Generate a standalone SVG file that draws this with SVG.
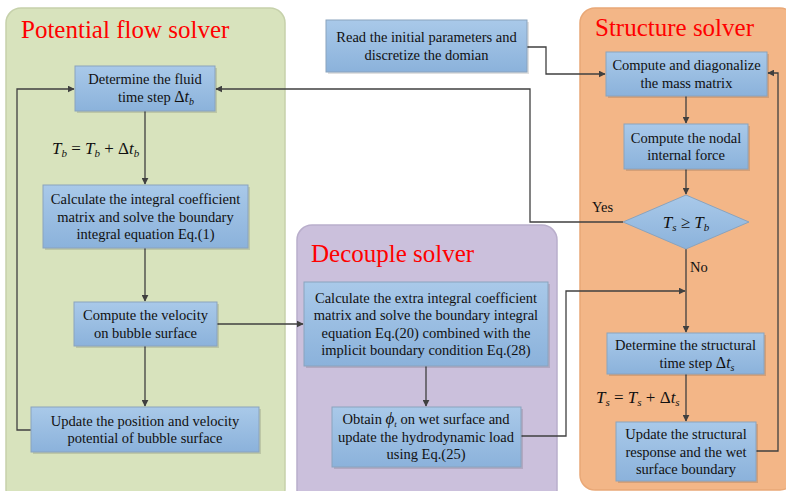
<svg xmlns="http://www.w3.org/2000/svg" width="786" height="491" viewBox="0 0 786 491" font-family="Liberation Serif">
<defs>
<linearGradient id="boxg" x1="0" y1="0" x2="0" y2="1">
<stop offset="0" stop-color="#a9c9e9"/>
<stop offset="1" stop-color="#8bb2db"/>
</linearGradient>
<marker id="arr" viewBox="0 0 10 10" refX="9" refY="5" markerWidth="7" markerHeight="7" markerUnits="userSpaceOnUse" orient="auto">
<path d="M0,0 L10,5 L0,10 z" fill="#404040"/>
</marker>
<style>
.panel{stroke-width:1.5}
.box{fill:url(#boxg);stroke:#8aa3bd;stroke-width:1}
.shadow{fill:#000;opacity:0.12}
.t{font-size:14.5px;fill:#111;text-anchor:middle}
.m{font-size:17px;fill:#111;font-style:italic}
.title{font-size:25px;fill:#ff0000}
.lab{font-size:14.5px;fill:#111}
.ca{fill:none;stroke:#404040;stroke-width:1.3;marker-end:url(#arr)}
</style>
</defs>
<rect width="786" height="491" fill="#ffffff"/>

<g id="panels">
<rect id="panel-potential" class="panel" x="6" y="8" width="279" height="496" rx="15" fill="#d8e3bd" stroke="#c6d1ab"/>
<rect id="panel-decouple" class="panel" x="297" y="225" width="260" height="280" rx="15" fill="#cbc0dc" stroke="#b9aecb"/>
<rect id="panel-structure" class="panel" x="580" y="8" width="215" height="482" rx="15" fill="#f3b687" stroke="#e9a877"/>
<text class="title" x="21" y="38" font-family="Liberation Serif">Potential flow solver</text>
<text class="title" x="311" y="262" font-family="Liberation Serif">Decouple solver</text>
<text class="title" x="595" y="36" font-family="Liberation Serif">Structure solver</text>
</g>

<g id="connectors">
<path class="ca" d="M145,111 V184"/>
<path class="ca" d="M145,248 V301"/>
<path class="ca" d="M145,346 V406"/>
<path class="ca" d="M31,430 H17 V89 H74"/>
<path class="ca" d="M217,324 H303"/>
<path class="ca" d="M426,366 V406"/>
<path class="ca" d="M521,436 H566 V291 H685"/>
<path class="ca" d="M527,47 H546 V74 H605"/>
<path class="ca" d="M686,96 V123"/>
<path class="ca" d="M686,169 V194"/>
<path class="ca" d="M623,222 H530 V89 H216"/>
<path class="ca" d="M686,249 V332"/>
<path class="ca" d="M686,374 V421"/>
<path class="ca" d="M756,451 H778 V73 H768"/>
<text class="lab" x="592" y="212">Yes</text>
<text class="lab" x="690" y="272">No</text>
<text class="m" x="52" y="154">T<tspan font-size="11" dy="3">b</tspan><tspan dy="-3" font-style="normal"> = </tspan>T<tspan font-size="11" dy="3">b</tspan><tspan dy="-3" font-style="normal"> + Δ</tspan>t<tspan font-size="11" dy="3">b</tspan></text>
<text class="m" x="596" y="403">T<tspan font-size="11" dy="3">s</tspan><tspan dy="-3" font-style="normal"> = </tspan>T<tspan font-size="11" dy="3">s</tspan><tspan dy="-3" font-style="normal"> + Δ</tspan>t<tspan font-size="11" dy="3">s</tspan></text>
</g>

<g id="node-pf1">
<rect class="shadow" x="77" y="68" width="140" height="45"/>
<rect class="box" x="75" y="66" width="140" height="45"/>
<text class="t" x="145" y="84">Determine the fluid</text>
<text class="t" x="156" y="102">time step <tspan font-size="16">Δ</tspan><tspan font-style="italic" font-size="16">t</tspan><tspan font-style="italic" font-size="10" dy="3">b</tspan></text>
</g>

<g id="node-pf2">
<rect class="shadow" x="45" y="187" width="205" height="63"/>
<rect class="box" x="43" y="185" width="205" height="63"/>
<text class="t" x="145.5" y="204">Calculate the integral coefficient</text>
<text class="t" x="145.5" y="221.7">matrix and solve the boundary</text>
<text class="t" x="145.5" y="239.4">integral equation Eq.(1)</text>
</g>

<g id="node-pf3">
<rect class="shadow" x="76" y="304" width="143" height="44"/>
<rect class="box" x="74" y="302" width="143" height="44"/>
<text class="t" x="145.5" y="320">Compute the velocity</text>
<text class="t" x="145.5" y="337.7">on bubble surface</text>
</g>

<g id="node-pf4">
<rect class="shadow" x="33" y="409" width="228" height="45"/>
<rect class="box" x="31" y="407" width="228" height="45"/>
<text class="t" x="145" y="425.6">Update the position and velocity</text>
<text class="t" x="145" y="443.3">potential of bubble surface</text>
</g>

<g id="node-d1">
<rect class="shadow" x="306" y="284" width="244" height="84"/>
<rect class="box" x="304" y="282" width="244" height="84"/>
<text class="t" x="426" y="302.5">Calculate the extra integral coefficient</text>
<text class="t" x="426" y="320.1">matrix and solve the boundary integral</text>
<text class="t" x="426" y="337.7">equation Eq.(20) combined with the</text>
<text class="t" x="426" y="355.3">implicit boundary condition Eq.(28)</text>
</g>

<g id="node-d2">
<rect class="shadow" x="334" y="409" width="189" height="60"/>
<rect class="box" x="332" y="407" width="189" height="60"/>
<text class="t" x="426" y="424">Obtain  <tspan font-style="italic" font-size="17">ϕ</tspan><tspan font-style="italic" font-size="9" dy="3">t</tspan><tspan dy="-3"> on wet surface and</tspan></text>
<text class="t" x="426" y="441.7">update the hydrodynamic load</text>
<text class="t" x="426" y="459.4">using Eq.(25)</text>
</g>

<g id="node-read">
<rect class="shadow" x="328" y="22" width="201" height="52"/>
<rect class="box" x="326" y="20" width="201" height="52"/>
<text class="t" x="426.5" y="42">Read the initial parameters and</text>
<text class="t" x="426.5" y="59.7">discretize the domian</text>
</g>

<g id="node-s1">
<rect class="shadow" x="608" y="54" width="161" height="44"/>
<rect class="box" x="606" y="52" width="161" height="44"/>
<text class="t" x="686.5" y="70">Compute and diagonalize</text>
<text class="t" x="686.5" y="87.7">the mass matrix</text>
</g>

<g id="node-s2">
<rect class="shadow" x="626" y="126" width="124" height="45"/>
<rect class="box" x="624" y="124" width="124" height="45"/>
<text class="t" x="686" y="142.6">Compute the nodal</text>
<text class="t" x="686" y="160.3">internal force</text>
</g>

<g id="node-diamond">
<path d="M686,195 L749,222 L686,249 L623,222 Z" fill="url(#boxg)" stroke="#8aa3bd" stroke-width="1"/>
<text class="m" x="686" y="228" text-anchor="middle">T<tspan font-size="11" dy="3">s</tspan><tspan dy="-3" font-style="normal"> ≥ </tspan>T<tspan font-size="11" dy="3">b</tspan></text>
</g>

<g id="node-s3">
<rect class="shadow" x="609" y="335" width="157" height="41"/>
<rect class="box" x="607" y="333" width="157" height="41"/>
<text class="t" x="685.5" y="350">Determine the structural</text>
<text class="t" x="697" y="367.5">time step <tspan font-size="16">Δ</tspan><tspan font-style="italic" font-size="16">t</tspan><tspan font-style="italic" font-size="10" dy="3">s</tspan></text>
</g>

<g id="node-s4">
<rect class="shadow" x="618" y="424" width="140" height="59"/>
<rect class="box" x="616" y="422" width="140" height="59"/>
<text class="t" x="686" y="438.8">Update the structural</text>
<text class="t" x="686" y="456.5">response and the wet</text>
<text class="t" x="686" y="474.2">surface boundary</text>
</g>
</svg>
